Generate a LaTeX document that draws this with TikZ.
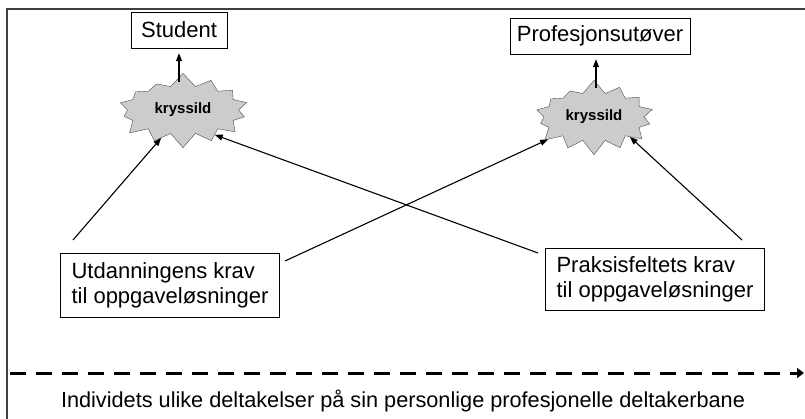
\documentclass[tikz,border=0pt]{standalone}
\usepackage{fontspec}
\setmainfont{Liberation Sans}
\usetikzlibrary{shapes.symbols,arrows.meta}
\tikzset{
    label-box/.style = {draw, thin, rectangle, inner sep=0pt, align=left, font=\fontsize{22}{25}\selectfont},
    crossfire/.style = {starburst, draw=black!70, fill=black!20, starburst points=14, starburst point height=14pt, random starburst=7, inner xsep=11pt, inner ysep=10pt, font=\bfseries\fontsize{15}{17}\selectfont},
    demand-arrow/.style = {-{Triangle[length=8pt,width=6pt]}, line width=1.1pt},
    track-line/.style = {line width=3pt, dash pattern=on 16pt off 10pt, -{Triangle[length=7pt,width=10pt]}},
}
\begin{document}
\begin{tikzpicture}[x=1pt,y=-1pt]
\useasboundingbox (0,0) rectangle (805,419);
\draw[line width=1.5pt, black!75] (7,419) -- (7,9) -- (805,9);

\node[label-box, minimum width=96pt, minimum height=36pt] (student) at (179,30) {Student};
\node[label-box, minimum width=180pt, minimum height=36pt] (profession) at (600,36) {Profesjonsutøver};

\node[crossfire] (fire-left) at (183,110) {kryssild};
\node[crossfire, inner xsep=7pt] (fire-right) at (594,117) {kryssild};

\node[label-box, minimum width=219pt, minimum height=64pt] (education) at (170,285) {Utdanningens krav\\til oppgaveløsninger};
\node[label-box, minimum width=219pt, minimum height=62pt] (practice) at (655,279) {Praksisfeltets krav\\til oppgaveløsninger};

\coordinate (edu-a) at (73,240);
\coordinate (edu-b) at (285,261);
\coordinate (prac-a) at (538,253);
\coordinate (prac-b) at (742,240);

\draw[demand-arrow, shorten <=28pt, shorten >=5pt] (student.south |- fire-left.center) -- (student.south);
\draw[demand-arrow, shorten <=29pt, shorten >=5pt] ([xshift=-4pt]profession.south |- fire-right.center) -- ([xshift=-4pt]profession.south);
\draw[demand-arrow] (edu-a) -- (fire-left.232);
\draw[demand-arrow] (edu-b) -- (fire-right.206);
\draw[demand-arrow] (prac-a) -- (fire-left.322);
\draw[demand-arrow] (prac-b) -- (fire-right.331);

\coordinate (track-start) at (10,373);
\coordinate (track-end) at (804,373);
\draw[track-line] (track-start) -- (track-end);
\node[font=\fontsize{21.7}{25}\selectfont] (trajectory) at (403,401) {Individets ulike deltakelser på sin personlige profesjonelle deltakerbane};
\end{tikzpicture}
\end{document}
